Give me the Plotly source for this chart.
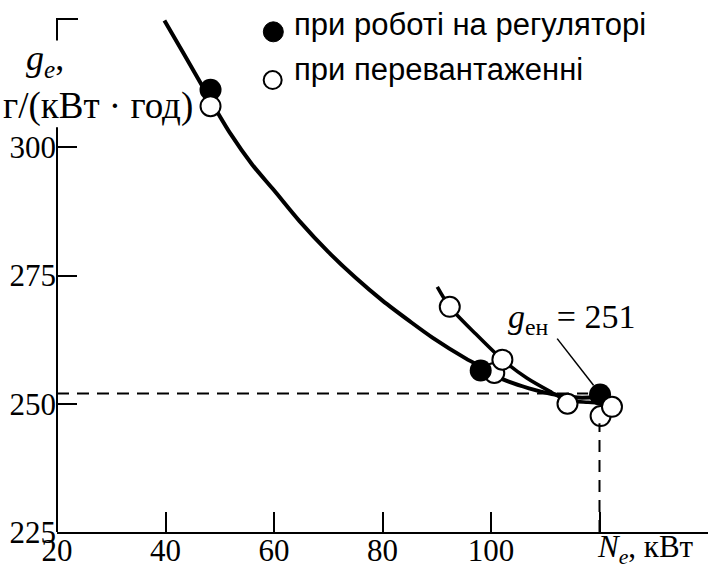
import plotly.graph_objects as go

# ---- data ----
main_x = [39.8, 43.5, 48.1, 52.0, 56.0, 60.0, 64.7, 70.0, 75.0, 80.0, 85.0, 89.2, 95.4, 98.2, 102.1, 107.0, 111.2, 116.0, 120.0]
main_y = [324.7, 318.0, 309.5, 302.6, 296.6, 291.6, 285.6, 279.6, 274.6, 270.1, 266.1, 262.9, 258.8, 257.2, 254.8, 253.0, 251.9, 251.2, 251.3]

over_x = [90.1, 92.4, 97.1, 102.1, 106.6, 111.2, 113.9, 117.9, 121.9]
over_y = [272.8, 268.9, 263.7, 258.6, 255.0, 252.2, 250.7, 250.3, 250.1]

filled_x = [48.3, 98.1, 120.1]
filled_y = [311.2, 256.5, 251.8]

open_back_x = [100.6]
open_back_y = [256.0]
open_x = [48.3, 92.4, 102.1, 114.1, 120.2, 122.3]
open_y = [308.0, 268.9, 258.6, 250.0, 247.6, 249.4]

x_ticks = [20, 40, 60, 80, 100, 120, 140]
x_ticktext = ["20", "40", "60", "80", "100", "", ""]
y_ticks = [225, 250, 275, 300]
y_ticktext = ["225", "250", "275", "300"]

g_nom = 251
g_line = 252.0
n_nom = 120

legend_labels = ["при роботі на регуляторі", "при перевантаженні"]

X_RANGE = [20, 140]
Y_RANGE = [225, 325]

SERIF = "Liberation Serif, Times New Roman, serif"
SANS = "Liberation Sans, Arial, sans-serif"

fig = go.Figure()

fig.add_trace(go.Scatter(x=main_x, y=main_y, mode="lines",
                         line=dict(color="black", width=4, shape="spline", smoothing=0.8),
                         showlegend=False, hoverinfo="skip"))
fig.add_trace(go.Scatter(x=over_x, y=over_y, mode="lines",
                         line=dict(color="black", width=3.6, shape="spline", smoothing=0.8),
                         showlegend=False, hoverinfo="skip"))
fig.add_trace(go.Scatter(x=open_back_x, y=open_back_y, mode="markers",
                         marker=dict(symbol="circle", size=20, color="white",
                                     line=dict(color="black", width=2)),
                         showlegend=False))
fig.add_trace(go.Scatter(x=filled_x, y=filled_y, mode="markers",
                         marker=dict(symbol="circle", size=22, color="black",
                                     line=dict(color="black", width=0)),
                         showlegend=False))
fig.add_trace(go.Scatter(x=open_x, y=open_y, mode="markers",
                         marker=dict(symbol="circle", size=20, color="white",
                                     line=dict(color="black", width=2)),
                         showlegend=False))

def py(v):
    return (v - Y_RANGE[0]) / (Y_RANGE[1] - Y_RANGE[0])

PLOT_W = 709 - 57 - 1
shapes = []
# y axis line (two segments, interrupted by the unit label) and the top cap
shapes.append(dict(type="line", xref="paper", yref="paper", x0=0, x1=0,
                   y0=py(225), y1=py(303.9), line=dict(color="black", width=2)))
shapes.append(dict(type="line", xref="paper", yref="paper", x0=0, x1=0,
                   y0=py(320.8), y1=py(Y_RANGE[1]), line=dict(color="black", width=2)))
shapes.append(dict(type="line", xref="paper", yref="paper", x0=-1 / PLOT_W, x1=21 / PLOT_W,
                   y0=py(Y_RANGE[1]), y1=py(Y_RANGE[1]), line=dict(color="black", width=2)))
# dashed guide lines
shapes.append(dict(type="line", xref="x", yref="y", x0=X_RANGE[0], x1=117.9,
                   y0=g_line, y1=g_line, line=dict(color="black", width=2, dash="12px,8px")))
shapes.append(dict(type="line", xref="x", yref="y", x0=n_nom, x1=n_nom,
                   y0=Y_RANGE[0], y1=246.2, line=dict(color="black", width=2, dash="12px,8px")))
# pointer line for annotation
shapes.append(dict(type="line", xref="x", yref="y", x0=112.2, x1=118.9,
                   y0=262.7, y1=253.6, line=dict(color="black", width=1.5)))
# legend symbols
shapes.append(dict(type="circle", xref="paper", yref="paper", xsizemode="pixel", ysizemode="pixel",
                   xanchor=0.3323, yanchor=0.975, x0=-10, x1=10, y0=-10, y1=10,
                   fillcolor="black", line=dict(color="black", width=1)))
shapes.append(dict(type="circle", xref="paper", yref="paper", xsizemode="pixel", ysizemode="pixel",
                   xanchor=0.3313, yanchor=0.881, x0=-9, x1=9, y0=-9, y1=9,
                   fillcolor="white", line=dict(color="black", width=2)))

annotations = [
    dict(xref="paper", yref="paper", x=0.3610, y=0.989, xanchor="left", yanchor="middle",
         text=legend_labels[0], showarrow=False, font=dict(family=SANS, size=31, color="black")),
    dict(xref="paper", yref="paper", x=0.3610, y=0.901, xanchor="left", yanchor="middle",
         text=legend_labels[1], showarrow=False, font=dict(family=SANS, size=31, color="black")),
    dict(xref="paper", yref="paper", x=-0.050, y=0.92, xanchor="left", yanchor="middle",
         text="<i>g</i><sub><i>e</i></sub>,", showarrow=False, font=dict(family=SERIF, size=36, color="black")),
    dict(xref="paper", yref="paper", x=-0.086, y=0.830, xanchor="left", yanchor="middle",
         text="г/(кВт\u00a0·\u00a0год)", showarrow=False, font=dict(family=SERIF, size=37, color="black")),
    dict(xref="x", yref="y", x=102.8, y=266.5, xanchor="left", yanchor="middle",
         text="<i>g</i><sub>ен</sub> = " + str(g_nom), showarrow=False,
         font=dict(family=SERIF, size=34, color="black")),
    dict(xref="x", yref="paper", x=n_nom - 0.8, y=-0.033, xanchor="left", yanchor="middle",
         text="<i>N</i><sub><i>e</i></sub>, кВт", showarrow=False,
         font=dict(family=SERIF, size=31, color="black")),
]

fig.update_layout(
    width=709, height=571,
    margin=dict(l=57, r=1, t=19, b=39),
    paper_bgcolor="white", plot_bgcolor="white",
    shapes=shapes, annotations=annotations,
    showlegend=False,
    xaxis=dict(range=X_RANGE, tickmode="array", tickvals=x_ticks, ticktext=x_ticktext,
               ticks="inside", ticklen=20, tickwidth=2, tickcolor="black", automargin=False,
               ticklabelstandoff=-10,
               showline=True, linecolor="black", linewidth=2, showgrid=False, zeroline=False,
               tickfont=dict(family=SERIF, size=31, color="black")),
    yaxis=dict(range=Y_RANGE, tickmode="array", tickvals=y_ticks, ticktext=y_ticktext,
               ticks="inside", ticklen=20, tickwidth=2, tickcolor="black", automargin=False,
               showline=False, showgrid=False, zeroline=False,
               tickfont=dict(family=SERIF, size=31, color="black")),
)

fig.write_html("out.html", config={"displayModeBar": False},
               post_script="document.body.style.margin='0';document.body.style.overflow='hidden';")
